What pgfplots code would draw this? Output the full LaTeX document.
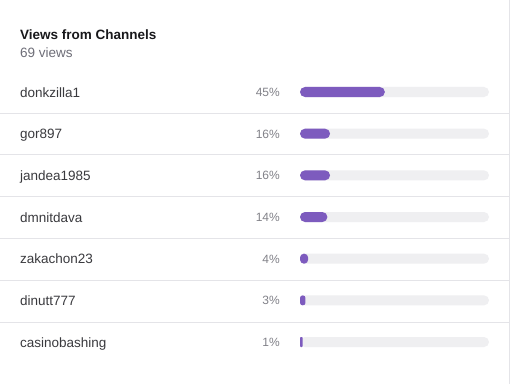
\documentclass[border=0pt]{standalone}
\usepackage{pgfplots}
\pgfplotsset{compat=1.18}
\usepackage{fontspec}
\setmainfont{Liberation Sans}
\definecolor{purp}{HTML}{7D5BBE}
\definecolor{trackc}{HTML}{EFEFF1}
\definecolor{sepc}{HTML}{E4E4E8}
\definecolor{titlec}{HTML}{18181B}
\definecolor{subc}{HTML}{6E6E78}
\definecolor{namec}{HTML}{3A3A3E}
\definecolor{pctc}{HTML}{828289}
\begin{document}
\begin{tikzpicture}[x=1pt,y=1pt]
\useasboundingbox[fill=white] (0,0) rectangle (510,384);
\foreach \y in {113,154.5,196,238,280,322} \draw[sepc, line width=1pt] (0,384-\y) -- (509,384-\y);
\draw[sepc, line width=1pt] (509.5,0) -- (509.5,384);
\node[anchor=base west, inner sep=0, font=\bfseries\fontsize{13.5}{16}\selectfont, text=titlec] at (20,384-39) {Views from Channels};
\node[anchor=base west, inner sep=0, font=\fontsize{13.5}{16}\selectfont, text=subc] at (20,384-57) {69 views};
\begin{axis}[
  at={(300pt,21.15pt)}, anchor=south west,
  width=189pt, height=291.7pt, scale only axis,
  xmin=0, xmax=100, ymin=-0.5, ymax=6.5, y dir=reverse,
  axis line style={draw=none}, tick style={draw=none},
  xtick=\empty,
  ytick={0,1,2,3,4,5,6},
  yticklabels={donkzilla1,gor897,jandea1985,dmnitdava,zakachon23,dinutt777,casinobashing},
  yticklabel style={anchor=base west, inner sep=0pt, xshift=-280pt, yshift=-5pt,
    font=\fontsize{13.5}{16}\selectfont, text=namec},
  /pgf/number format/assume math mode=true,
  clip=false,
]
\addplot[xbar, bar width=10pt, bar shift=0pt, fill=trackc, draw=none, rounded corners=5pt]
  coordinates {(100,0) (100,1) (100,2) (100,3) (100,4) (100,5) (100,6)};
\addplot[xbar, bar width=10pt, bar shift=0pt, fill=purp, draw=none, rounded corners=5pt]
  coordinates {(44.9,0) (15.9,1) (15.9,2) (14.5,3)};
\addplot[xbar, bar width=10pt, bar shift=0pt, fill=purp, draw=none, rounded corners=3.9pt]
  coordinates {(4.3,4)};
\addplot[xbar, bar width=10pt, bar shift=0pt, fill=purp, draw=none, rounded corners=2.6pt]
  coordinates {(2.9,5)};
\addplot[xbar, bar width=10pt, bar shift=0pt, fill=purp, draw=none, rounded corners=0.8pt]
  coordinates {(1.4,6)};
\addplot[only marks, mark=none, point meta=explicit,
  nodes near coords={\pgfmathprintnumber{\pgfplotspointmeta}\%},
  nodes near coords style={anchor=base east, inner sep=0pt, xshift=-20pt, yshift=-4.5pt,
    font=\fontsize{12}{14}\selectfont, text=pctc}]
  coordinates {(0,0) [45] (0,1) [16] (0,2) [16] (0,3) [14] (0,4) [4] (0,5) [3] (0,6) [1]};
\end{axis}
\end{tikzpicture}
\end{document}
